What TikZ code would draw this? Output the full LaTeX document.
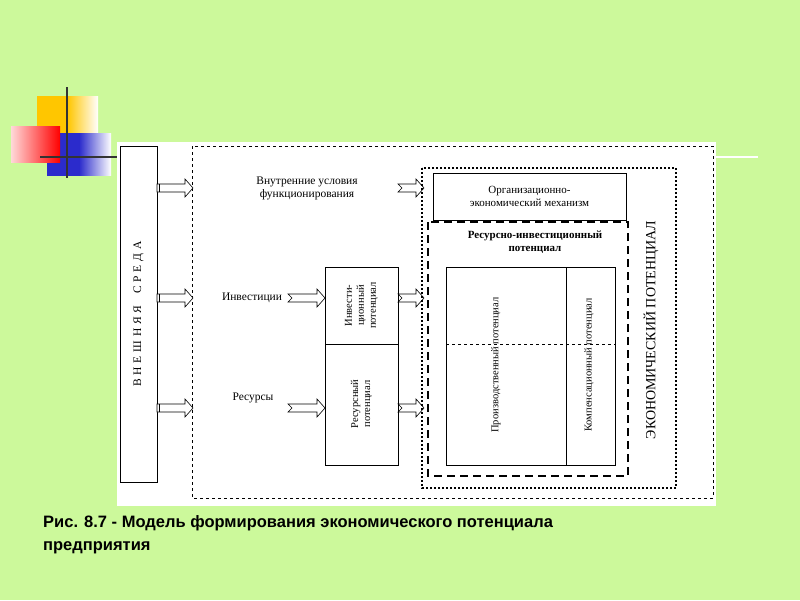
\documentclass[tikz,border=0pt]{standalone}
\usepackage{fontspec}
\setmainfont{Liberation Serif}
\newfontfamily\capfont{Liberation Sans}
\begin{document}
\begin{tikzpicture}[x=1pt,y=-1pt,
  txt/.style={font=\fontsize{11.5}{13}\selectfont,align=center,inner sep=0},
  vtxt/.style={txt,rotate=90},
  solidbox/.style={draw=black,line width=0.7pt},
  blockarrow/.style={draw=black,fill=white,line width=0.6pt}]
\definecolor{bg}{HTML}{CCF99B}
\definecolor{ora}{HTML}{FFC600}
\definecolor{blu}{HTML}{2B2BCC}
\useasboundingbox (0,0) rectangle (800,600);
\fill[bg] (0,0) rectangle (800,600);
% decoration
\shade[left color=ora,right color=white,middle color=ora] (37,96) rectangle (98,143);
\shade[left color=blu,right color=white,middle color=blu] (47,133) rectangle (111,175);
\shade[left color=red!15,right color=red] (11,126) rectangle (60,162);
\draw[line width=1.3pt,black!80] (67,87) -- (67,178);
\draw[line width=1.3pt,black!80] (40,157) -- (117,157);
\fill[white] (117,142) rectangle (716,506);
\draw[white,line width=1.3pt] (716,157) -- (758,157);
% macro for block arrow
\newcommand{\barw}[3]{%
 \draw[blockarrow] (#1,#3-4) -- (#2-8,#3-4) -- (#2-8,#3-9) -- (#2,#3) -- (#2-8,#3+9) -- (#2-8,#3+4) -- (#1,#3+4) -- (#1+4,#3) -- cycle;}
\newcommand{\barwb}[3]{%
 \draw[blockarrow] (#1,#3-4) -- (#2-8,#3-4) -- (#2-8,#3-9) -- (#2,#3) -- (#2-8,#3+9) -- (#2-8,#3+4) -- (#1,#3+4) -- cycle;
 \draw[line width=0.6pt] (#1+2,#3-4) -- (#1+2,#3+4);}
% external environment
\node[solidbox,minimum width=37,minimum height=336,inner sep=0] (env) at (138.5,314) {};
\node[vtxt] at (env.center) {В\,\,Н\,\,Е\,\,Ш\,\,Н\,\,Я\,\,Я\quad С\,\,Р\,\,Е\,\,Д\,\,А};
% outer dashed
\draw[dashed,line width=1pt] (192,146) rectangle (713,498);
\barwb{157}{193}{188}
\barwb{157}{193}{298}
\barwb{157}{193}{408}
\node[txt] (vn) at (307,188) {Внутренние условия\\функционирования};
\node[txt] (inv) at (252,298) {Инвестиции};
\node[txt] (res) at (253,398) {Ресурсы};
\barw{288}{325}{298}
\barw{288}{325}{408}
\barw{398}{424}{188}
\barw{398}{424}{298}
\barw{398}{424}{408}
% potential boxes
\draw[solidbox] (325,267) rectangle (398,465);
\draw[solidbox] (325,344) -- (398,344);
\node[vtxt,font=\fontsize{10.5}{12}\selectfont] at (361.5,305.5) {Инвести-\\ционный\\потенциал};
\node[vtxt,font=\fontsize{10.5}{12}\selectfont] at (361.5,404) {Ресурсный\\потенциал};
% economic potential dotted
\draw[dotted,line width=2pt] (422,168) rectangle (676,488);
\draw[solidbox] (433,173) rectangle (626,220);
\node[txt,font=\fontsize{11}{13}\selectfont] at (529.5,196.5) {Организационно-\\экономический механизм};
\draw[line width=2pt,dash pattern=on 8pt off 5pt] (428,222) rectangle (628,476);
\node[txt,font=\bfseries\fontsize{11}{13}\selectfont] at (535,242) {Ресурсно-инвестиционный\\потенциал};
\draw[solidbox] (446,267) rectangle (615,465);
\draw[solidbox] (566,267) -- (566,465);
\draw[dashed,line width=0.7pt] (446,344) -- (615,344);
\node[vtxt,font=\fontsize{10.5}{12}\selectfont] at (496,365) {Производственный потенциал};
\node[vtxt,font=\fontsize{10.5}{12}\selectfont] at (589,365) {Компенсационный потенциал};
\node[vtxt,font=\fontsize{14}{16}\selectfont] at (651,330) {ЭКОНОМИЧЕСКИЙ ПОТЕНЦИАЛ};
% caption
\node[anchor=north west,align=left,inner sep=0,font=\capfont\bfseries\fontsize{16.5}{23}\selectfont] at (43,515) {Рис. 8.7 - Модель формирования экономического потенциала\\предприятия};
\end{tikzpicture}
\end{document}
